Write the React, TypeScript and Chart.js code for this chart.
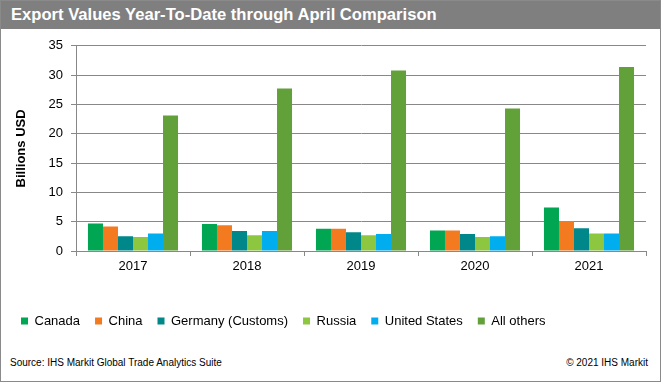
import React, { useEffect, useRef } from "react";
import { Chart, registerables } from "chart.js";

Chart.register(...registerables);

const years = ["2017", "2018", "2019", "2020", "2021"];
const seriesNames = ["Canada", "China", "Germany (Customs)", "Russia", "United States", "All others"];
const canada = [4.7, 4.6, 3.8, 3.5, 7.4];
const china = [4.2, 4.4, 3.8, 3.5, 5.1];
const germany = [2.5, 3.4, 3.2, 2.9, 3.9];
const russia = [2.4, 2.7, 2.7, 2.4, 3.0];
const unitedStates = [3.0, 3.4, 2.9, 2.5, 3.0];
const allOthers = [23.1, 27.7, 30.8, 24.3, 31.4];
const seriesValues = [canada, china, germany, russia, unitedStates, allOthers];
const seriesColors = ["#00A651", "#F47A20", "#00878A", "#8DC63F", "#00AEEF", "#62A03A"];
const yMin = 0;
const yMax = 35;
const yStep = 5;

const FONT = "Arial, 'Liberation Sans', Helvetica, sans-serif";

export default function App() {
  const ref = useRef<HTMLCanvasElement>(null);
  useEffect(() => {
    document.body.style.margin = "0";
    const chart = new Chart(ref.current!, {
      type: "bar",
      data: {
        labels: years,
        datasets: seriesValues.map((d, i) => ({
          label: seriesNames[i],
          data: d,
          backgroundColor: seriesColors[i],
          borderWidth: 0,
          categoryPercentage: 0.79,
          barPercentage: 1,
        })),
      },
      options: {
        animation: false,
        responsive: false,
        maintainAspectRatio: false,
        layout: { padding: { left: 6, right: 15, top: 14, bottom: 7.5 } },
        plugins: {
          legend: {
            position: "bottom",
            align: "start",
            labels: {
              boxWidth: 7,
              boxHeight: 7,
              padding: 15,
              color: "#000",
              font: { family: FONT, size: 13 },
            },
          },
          tooltip: { enabled: false },
        },
        scales: {
          x: {
            grid: { drawOnChartArea: false, drawTicks: true, tickLength: 5, color: "#888" },
            border: { color: "#888" },
            ticks: { padding: 3, color: "#000", font: { family: FONT, size: 13 } },
            afterFit: (s: any) => {
              s.height = 48.5;
            },
          },
          y: {
            min: yMin,
            max: yMax,
            ticks: { stepSize: yStep, padding: 8, color: "#000", font: { family: FONT, size: 13 } },
            grid: { color: "#888", tickLength: 5 },
            border: { color: "#888" },
            title: {
              display: true,
              text: "Billions USD",
              color: "#000",
              font: { family: FONT, size: 13, weight: "bold" },
              padding: { top: 8, bottom: 0 },
            },
            afterFit: (s: any) => {
              s.width = 70;
            },
          },
        },
      },
    });
    return () => chart.destroy();
  }, []);

  return (
    <div style={{ position: "absolute", left: 0, top: 0, width: 661, height: 382, background: "#fff", fontFamily: FONT }}>
      <div
        style={{
          position: "absolute",
          left: 0,
          top: 0,
          width: 661,
          height: 29,
          background: "#7f7f7f",
          color: "#fff",
          fontWeight: "bold",
          fontSize: 16.6,
          lineHeight: "29px",
          paddingLeft: 11,
          boxSizing: "border-box",
          whiteSpace: "nowrap",
        }}
      >
        Export Values Year-To-Date through April Comparison
      </div>
      <canvas ref={ref} width={661} height={315} style={{ position: "absolute", left: 0, top: 30, width: 661, height: 315 }} />
      <div style={{ position: "absolute", left: 10, top: 356, fontSize: 10, lineHeight: "14px", color: "#000", whiteSpace: "nowrap" }}>
        Source: IHS Markit Global Trade Analytics Suite
      </div>
      <div style={{ position: "absolute", right: 13, top: 356, fontSize: 10, lineHeight: "14px", color: "#000", whiteSpace: "nowrap" }}>
        © 2021 IHS Markit
      </div>
      <div
        style={{
          position: "absolute",
          left: 0,
          top: 0,
          width: 661,
          height: 382,
          border: "1px solid #8a8a8a",
          boxSizing: "border-box",
          pointerEvents: "none",
        }}
      />
    </div>
  );
}
